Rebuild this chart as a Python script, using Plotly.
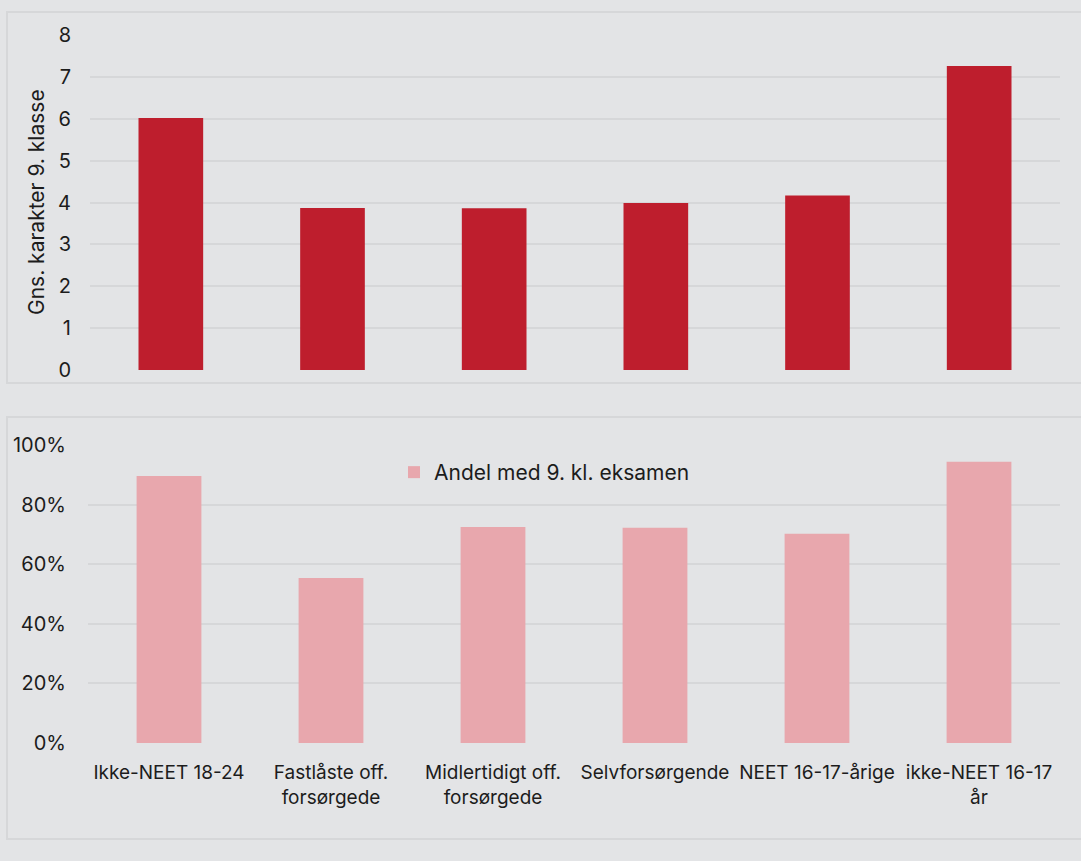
import plotly.graph_objects as go

categories = ["Ikke-NEET 18-24", "Fastlåste off.<br>forsørgede", "Midlertidigt off.<br>forsørgede",
              "Selvforsørgende", "NEET 16-17-årige", "ikke-NEET 16-17<br>år"]
grade_avg = [6.02, 3.87, 3.86, 3.99, 4.17, 7.26]
share_exam = [0.896, 0.554, 0.725, 0.722, 0.702, 0.944]
share_name = "Andel med 9. kl. eksamen"
y1_title = "Gns. karakter 9. klasse"

W, H = 1081, 861
BG = "#e3e4e6"
GRID = "#d6d7d9"
TXT = "#1c1c1c"
FONT = "Inter"

def px_x(p):
    return p / W

def px_y(p):
    return 1 - p / H

fig = go.Figure()
fig.add_trace(go.Bar(x=categories, y=grade_avg, marker_color="#be1e2d", width=0.4,
                     xaxis="x", yaxis="y", showlegend=False))
fig.add_trace(go.Bar(x=categories, y=share_exam, marker_color="#e8a7ad", width=0.4,
                     xaxis="x2", yaxis="y2", name=share_name, showlegend=True))

fig.update_layout(
    template="none",
    width=W, height=H, autosize=False,
    margin=dict(l=0, r=0, t=0, b=0, pad=0, autoexpand=False),
    paper_bgcolor=BG, plot_bgcolor=BG,
    font=dict(family=FONT, color=TXT, size=20),
    xaxis=dict(domain=[px_x(90), px_x(1060)], anchor="y", showticklabels=False,
               showgrid=False, zeroline=False, showline=False, ticks="", automargin=False),
    yaxis=dict(domain=[px_y(370), px_y(35)], anchor="x", range=[0, 8], dtick=1,
               showgrid=True, gridcolor=GRID, gridwidth=1.5, zeroline=False,
               showline=False, ticks="", ticklabelstandoff=18, automargin=False,
               tickfont=dict(size=20, color=TXT)),
    xaxis2=dict(domain=[px_x(88), px_x(1060)], anchor="y2", showgrid=False,
                zeroline=False, showline=False, ticks="", ticklabelstandoff=16,
                automargin=False, tickfont=dict(size=19, color=TXT)),
    yaxis2=dict(domain=[px_y(743), px_y(445)], anchor="x2", range=[0, 1], dtick=0.2,
                tickformat=".0%", showgrid=True, gridcolor=GRID, gridwidth=1.5,
                zeroline=False, showline=False, ticks="", ticklabelstandoff=21,
                automargin=False, tickfont=dict(size=20, color=TXT)),
    legend=dict(x=px_x(394), y=px_y(452), xanchor="left", yanchor="top",
                bgcolor="rgba(0,0,0,0)", font=dict(size=21, color=TXT),
                itemsizing="constant"),
    annotations=[dict(text=y1_title, textangle=-90, xref="paper", yref="paper",
                      x=px_x(37), y=px_y(202), xanchor="center", yanchor="middle",
                      showarrow=False, font=dict(size=21, color=TXT))],
    shapes=[
        dict(type="rect", xref="paper", yref="paper", x0=px_x(7), x1=px_x(1090),
             y0=px_y(383), y1=px_y(12), line=dict(color=GRID, width=2), layer="below"),
        dict(type="rect", xref="paper", yref="paper", x0=px_x(7), x1=px_x(1090),
             y0=px_y(839), y1=px_y(417), line=dict(color=GRID, width=2), layer="below"),
    ],
)

fig.write_html("out.html", config={"displayModeBar": False},
               post_script="document.body.style.margin='0';document.body.style.background='#e3e4e6';")
